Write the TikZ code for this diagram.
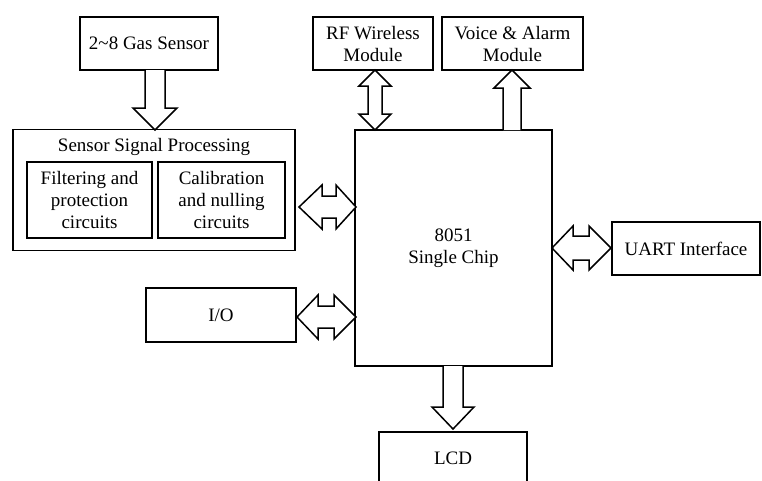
\documentclass[tikz,border=0pt]{standalone}
\usepackage{fontspec}
\setmainfont{Liberation Serif}
\begin{document}
\begin{tikzpicture}[x=1pt,y=-1pt,
  box/.style={draw,line width=1.6pt,inner sep=0pt,align=center,
    font=\fontsize{19}{22}\selectfont},
  lbl/.style={inner sep=0pt,align=center,font=\fontsize{19}{22}\selectfont},
  blk/.style={draw,line width=1.5pt,line join=miter,fill=white}]
\clip (0,0) rectangle (762,480);
\fill[white] (0,0) rectangle (762,480);
% boxes
\node[box,minimum width=138,minimum height=53] (gas) at (149,43.5) {2\textasciitilde8 Gas Sensor};
\node[box,minimum width=282,minimum height=121] (ssp) at (154,190) {};
\node[lbl] (ssptitle) at (154,147) {Sensor Signal Processing};
\node[box,minimum width=125,minimum height=76] (filt) at (89.5,200) {Filtering and\\protection\\circuits};
\node[box,minimum width=127,minimum height=76] (cal) at (221.5,200) {Calibration\\and nulling\\circuits};
\node[box,minimum width=197,minimum height=236] (chip) at (453.5,248) {8051\\Single Chip};
\node[box,minimum width=120,minimum height=53] (rf) at (373,43.5) {RF Wireless\\Module};
\node[box,minimum width=141,minimum height=53] (voice) at (512.5,43.5) {Voice \& Alarm\\Module};
\node[box,minimum width=148,minimum height=53] (uart) at (686,248.5) {UART Interface};
\node[box,minimum width=150,minimum height=54] (io) at (221,315) {I/O};
\node[box,minimum width=148,minimum height=100,anchor=north] (lcd) at (453,431) {};
\node[lbl] (lcdtext) at (453,458) {LCD};
% gas -> ssp (down)
\draw[blk] (145,70) -- (145,108) -- (133,108) -- (155,130) -- (177,108) -- (165,108) -- (165,70);
% voice <- chip (up)
\draw[blk] (503,130) -- (503,88) -- (494,88) -- (512,70) -- (530,88) -- (521,88) -- (521,130);
% lcd <- chip (down)
\draw[blk] (443,366) -- (443,407) -- (432,407) -- (453,429) -- (474,407) -- (463,407) -- (463,366);
% rf <-> chip (vertical double)
\draw[blk] (375,70) -- (391,86) -- (382,86) -- (382,114) -- (391,114) -- (375,130)
  -- (359,114) -- (368,114) -- (368,86) -- (359,86) -- cycle;
% ssp <-> chip
\draw[blk] (299,207) -- (322,185) -- (322,196) -- (336,196) -- (336,185) -- (356,207)
  -- (336,229) -- (336,218) -- (322,218) -- (322,229) -- cycle;
% io <-> chip
\draw[blk] (297,317) -- (318,295) -- (318,306) -- (334,306) -- (334,295) -- (356,317)
  -- (334,339) -- (334,328) -- (318,328) -- (318,339) -- cycle;
% chip <-> uart
\draw[blk] (552,248) -- (573,226) -- (573,236) -- (589,236) -- (589,226) -- (611,248)
  -- (589,270) -- (589,260) -- (573,260) -- (573,270) -- cycle;
\end{tikzpicture}
\end{document}
